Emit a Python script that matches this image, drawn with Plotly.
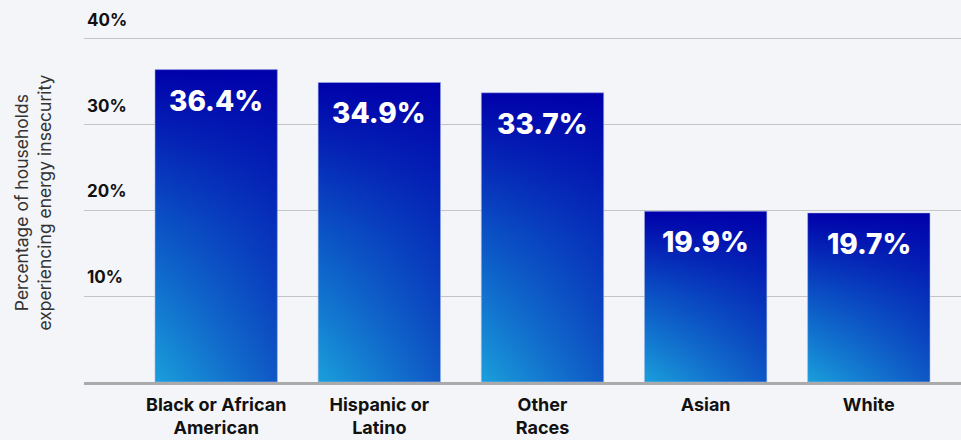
import plotly.graph_objects as go

categories = ["Black or African<br>American", "Hispanic or<br>Latino", "Other<br>Races", "Asian", "White"]
values = [36.4, 34.9, 33.7, 19.9, 19.7]
value_labels = ["36.4%", "34.9%", "33.7%", "19.9%", "19.7%"]
y_ticks = [10, 20, 30, 40]
y_tick_labels = ["10%", "20%", "30%", "40%"]

FONT = "Inter"
half = 0.375

fig = go.Figure()
for i, v in enumerate(values):
    xs = [i - half, i + half, i + half, i - half, i - half]
    ys = [0, 0, v, v, 0]
    fig.add_trace(go.Scatter(
        x=xs, y=ys, mode="lines", fill="toself",
        line=dict(width=0, color="rgba(0,0,0,0)"),
        fillgradient=dict(type="vertical",
                          colorscale=[[0, "#1a9fdb"], [0.5, "#0b55c6"], [1, "#0000aa"]]),
        hoverinfo="skip", showlegend=False))
    fig.add_trace(go.Scatter(
        x=xs, y=ys, mode="lines", fill="toself",
        line=dict(width=1, color="rgba(170,185,235,0.55)"),
        fillgradient=dict(type="horizontal",
                          colorscale=[[0, "rgba(0,0,170,0)"], [1, "rgba(0,0,170,0.45)"]]),
        hoverinfo="skip", showlegend=False))
    fig.add_annotation(x=i, y=v, text=value_labels[i], showarrow=False,
                       yanchor="top", yshift=-12,
                       font=dict(family=FONT, size=28, color="white", weight=800))

fig.add_annotation(xref="paper", yref="paper", x=-51 / 877, y=0.52,
                   text="Percentage of households<br>experiencing energy insecurity",
                   textangle=-90, showarrow=False, xanchor="center", yanchor="middle",
                   font=dict(family=FONT, size=17.5, color="#333333"))

fig.update_layout(
    width=961, height=440,
    margin=dict(l=84, r=0, t=37, b=58),
    paper_bgcolor="#f4f5f9", plot_bgcolor="#f4f5f9",
    xaxis=dict(range=[-0.81, 4.565], tickvals=list(range(len(categories))),
               ticktext=categories, showgrid=False, zeroline=False,
               showline=True, linewidth=3, linecolor="#aaaaaa", automargin=False,
               tickfont=dict(family=FONT, size=18, color="#111111", weight="bold"),
               ticks="outside", ticklen=4, tickcolor="rgba(0,0,0,0)", fixedrange=True),
    yaxis=dict(range=[0, 40.2], tickvals=y_ticks, ticktext=y_tick_labels,
               ticklabelposition="inside top", ticklabelshift=-7,
               ticklabeloverflow="allow", automargin=False,
               showgrid=True, gridcolor="#c4c4c4",
               gridwidth=1, zeroline=False, showline=False,
               tickfont=dict(family=FONT, size=17, color="#111111", weight="bold"),
               fixedrange=True),
    showlegend=False,
)

fig.write_html("out.html")
